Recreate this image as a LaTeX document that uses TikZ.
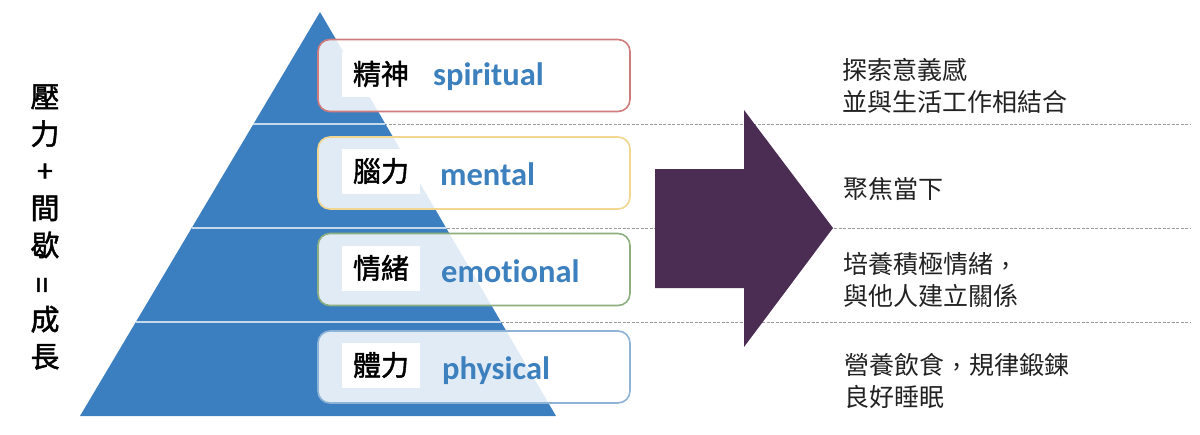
\documentclass[tikz,border=0pt]{standalone}
\usepackage{fontspec}
\usepackage{graphicx}
\usetikzlibrary{calc}
\newfontfamily\cjk[Script=CJK,Language=Chinese Traditional]{Noto Sans CJK TC}
\newfontfamily\cjkm[Script=CJK,Language=Chinese Traditional,FakeBold=1.6]{Noto Sans CJK TC}
\newfontfamily\en[BoldFont={Carlito Bold},Ligatures=NoCommon]{Carlito}
\newcommand{\tccomma}{\makebox[1em][c]{\raisebox{0.34em}{,}}}
\definecolor{pyr}{HTML}{3C7FC0}
\definecolor{arrowc}{HTML}{4B2D53}
\definecolor{enblue}{HTML}{3D80BE}
\definecolor{bred}{HTML}{D07C7C}
\definecolor{byel}{HTML}{F0D68E}
\definecolor{bgrn}{HTML}{8DAF80}
\definecolor{bblu}{HTML}{8DB4D6}
\definecolor{dline}{HTML}{9A9A9A}
\definecolor{txt}{HTML}{222222}
\tikzset{
  levelbox/.style={draw, line width=1.6pt, rounded corners=12pt, fill=white, fill opacity=0.85,
    minimum width=312pt, minimum height=72pt, inner sep=0pt},
  zhlabel/.style={fill=white, inner sep=0pt, minimum width=78pt, minimum height=45pt,
    font=\cjkm\fontsize{28}{30}\selectfont, text=black},
  enlabel/.style={anchor=west, inner sep=0pt, font=\en\bfseries\fontsize{32.5}{34}\selectfont, text=enblue},
  desc/.style={anchor=west, align=left, inner sep=0pt, font=\cjk\fontsize{25}{31.5}\selectfont, text=txt},
  sepline/.style={dline, line width=1pt, dash pattern=on 3pt off 1.5pt},
  divider/.style={draw=white!70!pyr, line width=1.5pt}
}
\begin{document}
\begin{tikzpicture}[x=1pt,y=-1pt]
\useasboundingbox (0,0) rectangle (1200,434);
% dashed separators (behind pyramid)
\coordinate (s1) at (330,124); \coordinate (e1) at (1190,124);
\coordinate (s2) at (330,228); \coordinate (e2) at (1190,228);
\coordinate (s3) at (330,322); \coordinate (e3) at (1190,322);
\draw[sepline] (s1) -- (e1);
\draw[sepline] (s2) -- (e2);
\draw[sepline] (s3) -- (e3);
% pyramid
\coordinate (A) at (320,12);
\coordinate (L) at (80,416);
\coordinate (R) at (556,416);
\fill[pyr] (A) -- (L) -- (R) -- cycle;
\foreach \t in {0.2772,0.5347,0.7673}{
  \draw[divider] ($(A)!\t!(L)$) -- ($(A)!\t!(R)$);
}
% boxes
\node[levelbox, draw=bred] (b1) at (474,75.5) {};
\node[levelbox, draw=byel] (b2) at (474,173) {};
\node[levelbox, draw=bgrn] (b3) at (474,269.5) {};
\node[levelbox, draw=bblu] (b4) at (474,367) {};
% labels
\node[zhlabel] (z1) at (381,74) {精神};
\node[zhlabel] (z2) at (381,171) {腦力};
\node[zhlabel] (z3) at (381,268) {情緒};
\node[zhlabel] (z4) at (381,365) {體力};
\node[enlabel] (n1) at (433,77) {spiritual};
\node[enlabel] (n2) at (440,174) {mental};
\node[enlabel] (n3) at (441,271) {emotional};
\node[enlabel] (n4) at (442,371) {physical};
% arrow
\fill[arrowc] (655,169) -- (744,169) -- (744,110) -- (833,228) -- (744,347) -- (744,288) -- (655,288) -- cycle;
% descriptions
\node[desc] (d1) at (842,86) {探索意義感\\並與生活工作相結合};
\node[desc] (d2) at (843,189) {聚焦當下};
\node[desc] (d3) at (843,280) {培養積極情緒\tccomma\\與他人建立關係};
\node[desc] (d4) at (844,381) {營養飲食\tccomma 規律鍛鍊\\良好睡眠};
% left vertical text
\node[align=center, inner sep=0pt, font=\cjkm\fontsize{29}{37.1}\selectfont, text=black] (lt) at (45,227)
  {壓\\力\\+\\間\\歇\\\rotatebox{90}{=}\\成\\長};
\end{tikzpicture}
\end{document}
